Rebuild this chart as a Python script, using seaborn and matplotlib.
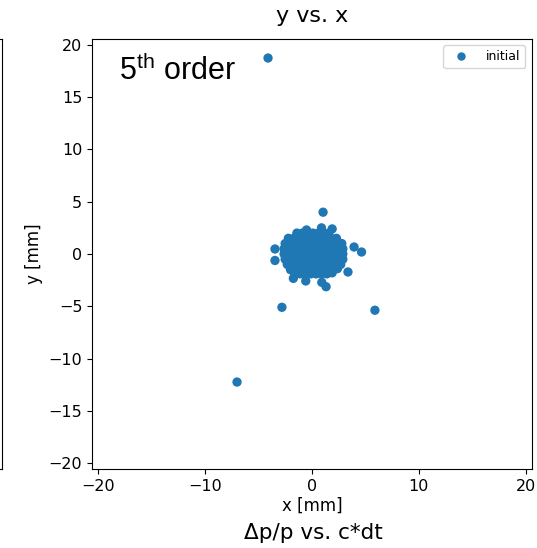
import matplotlib
matplotlib.use("Agg")
import matplotlib.pyplot as plt
import seaborn as sns
import pandas as pd

# ---- data ----
core_x = [
    -1.4, -0.9, -0.4, 0.1, 0.6, 1.1, 1.6, 0.9, 1.9, -0.5,
    -2.2, -1.7, -1.2, -0.7, -0.2, 0.3, 0.8, 1.3, 1.8, 2.3,
    -2.5, -2.0, -1.5, -1.0, -0.5, 0.0, 0.5, 1.0, 1.5, 2.0, 2.5, 2.8,
    -2.6, -2.1, -1.6, -1.1, -0.6, -0.1, 0.4, 0.9, 1.4, 1.9, 2.4, 2.9,
    -2.6, -2.1, -1.6, -1.1, -0.6, -0.1, 0.4, 0.9, 1.4, 1.9, 2.4, 2.9,
    -2.5, -2.0, -1.5, -1.0, -0.5, 0.0, 0.5, 1.0, 1.5, 2.0, 2.5, 2.9,
    -2.3, -1.8, -1.3, -0.8, -0.3, 0.2, 0.7, 1.2, 1.7, 2.2, 2.7,
    -2.0, -1.5, -1.0, -0.5, 0.0, 0.5, 1.0, 1.5, 2.0, 2.4,
    -1.6, -1.1, -0.6, -0.1, 0.4, 0.9, 1.4, 1.9,
]
core_y = [
    2.0, 2.0, 2.1, 2.0, 2.0, 2.0, 2.0, 2.5, 2.4, 2.3,
    1.5, 1.5, 1.5, 1.5, 1.5, 1.5, 1.5, 1.5, 1.5, 1.5,
    1.0, 1.0, 1.0, 1.0, 1.0, 1.0, 1.0, 1.0, 1.0, 1.0, 1.0, 1.0,
    0.5, 0.5, 0.5, 0.5, 0.5, 0.5, 0.5, 0.5, 0.5, 0.5, 0.5, 0.5,
    0.0, 0.0, 0.0, 0.0, 0.0, 0.0, 0.0, 0.0, 0.0, 0.0, 0.0, 0.0,
    -0.5, -0.5, -0.5, -0.5, -0.5, -0.5, -0.5, -0.5, -0.5, -0.5, -0.5, -0.5,
    -1.0, -1.0, -1.0, -1.0, -1.0, -1.0, -1.0, -1.0, -1.0, -1.0, -1.0,
    -1.5, -1.5, -1.5, -1.5, -1.5, -1.5, -1.5, -1.5, -1.5, -1.4,
    -1.9, -1.9, -1.9, -1.9, -1.9, -1.9, -1.9, -1.8,
]
outlier_x = [-4.1, -7.0, 5.9, -2.8, 1.05, 3.95, 4.65, -3.45, -3.45, 3.38, -1.73, -0.57, 0.93, 1.33]
outlier_y = [18.75, -12.25, -5.38, -5.1, 4.0, 0.67, 0.19, 0.48, -0.62, -1.72, -2.33, -2.58, -2.71, -3.13]

x_vals = core_x + outlier_x
y_vals = core_y + outlier_y
series_label = "initial"
title = "y vs. x"
x_label = "x [mm]"
y_label = "y [mm]"
lower_title = "Δp/p vs. c*dt"
ticks = [-20, -15, -10, -5, 0, 5, 10, 15, 20]
xticks = [-20, -10, 0, 10, 20]

df = pd.DataFrame({"x": x_vals, "y": y_vals, "series": series_label})

plt.rcParams["mathtext.fontset"] = "custom"
plt.rcParams["mathtext.rm"] = "Liberation Sans"

W, H = 537, 548
fig = plt.figure(figsize=(W / 100, H / 100), dpi=100)
left, right, top, bottom = 92 / W, 531.7 / W, 39 / H, 469 / H
ax = fig.add_axes([left, 1 - bottom, right - left, bottom - top])

# partial neighbouring axes at the left edge
ax2 = fig.add_axes([-0.5, 1 - bottom, 0.5 + 2 / W, bottom - top])
ax2.set_xticks([])
ax2.set_yticks([])

sns.scatterplot(data=df, x="x", y="y", hue="series", palette=["#1f77b4"],
                s=45, linewidth=0, edgecolor="none", ax=ax)

ax.set_xlim(-20.57, 20.57)
ax.set_ylim(-20.57, 20.57)
ax.set_xticks(xticks)
ax.set_yticks(ticks)
ax.tick_params(labelsize=11.5)
ax.set_xlabel(x_label, fontsize=12, labelpad=2)
ax.set_ylabel(y_label, fontsize=12)
ax.set_title(title, fontsize=16, pad=12)

ax.text(0.061, 0.905, r"5$^{\rm th}$ order", transform=ax.transAxes,
        fontsize=22, family="Liberation Sans", va="baseline", ha="left")

leg = ax.legend(loc="upper right", fontsize=9, title=None, markerscale=0.9,
                handletextpad=1.0)

fig.text(313 / W, 1 - 533 / H, lower_title, fontsize=15.5, ha="center", va="center")

fig.savefig("out.png", dpi=100)
